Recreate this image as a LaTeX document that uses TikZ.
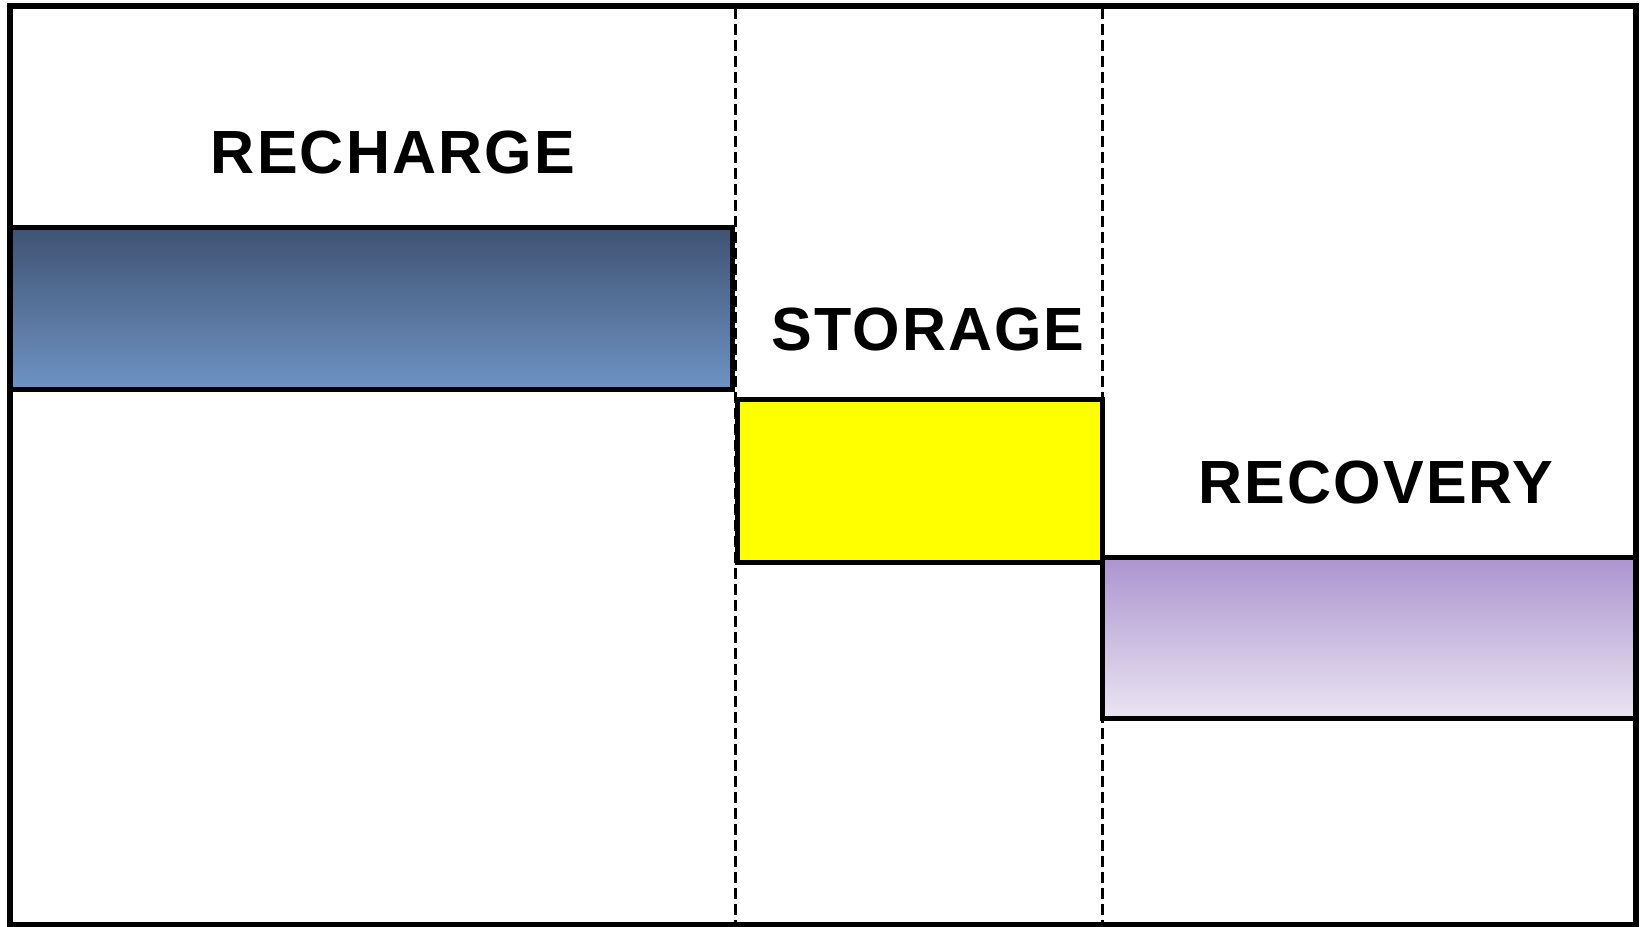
\documentclass[tikz,border=0pt]{standalone}
\usepackage{fontspec}
\setmainfont{Liberation Sans}
\newfontfamily\labelfont[LetterSpace=3.5]{Liberation Sans}
\definecolor{rechTop}{HTML}{3F5272}
\definecolor{rechBot}{HTML}{6E93C4}
\definecolor{recTop}{HTML}{AC94CF}
\definecolor{recBot}{HTML}{EAE5F2}
\definecolor{storFill}{HTML}{FFFF00}
\tikzset{
  frameline/.style={line width=5.5pt},
  phasebox/.style={draw=black, line width=5pt},
  divider/.style={line width=3pt, dash pattern=on 11pt off 5pt},
  phaselabel/.style={font=\labelfont\fontsize{61}{70}\selectfont\bfseries, inner sep=0pt}
}
\begin{document}
\begin{tikzpicture}[x=1pt,y=-1pt]
\useasboundingbox (0,0) rectangle (1640,926);
% dividers
\draw[divider] (735.5,8) -- (735.5,926);
\draw[divider] (1102,8) -- (1102,926);
% boxes
\path[phasebox, top color=rechTop, bottom color=rechBot] (10,227) rectangle (732,389);
\path[phasebox, fill=storFill] (737,399) rectangle (1102,562);
\path[phasebox, top color=recTop, bottom color=recBot] (1102,557) rectangle (1636,718);
% frame
\draw[frameline] (10,6) rectangle (1636,925);
% labels
\node[phaselabel] (recharge) at (393,152) {RECHARGE};
\node[phaselabel] (storage) at (928,329) {STORAGE};
\node[phaselabel] (recovery) at (1376,482) {RECOVERY};
\end{tikzpicture}
\end{document}
